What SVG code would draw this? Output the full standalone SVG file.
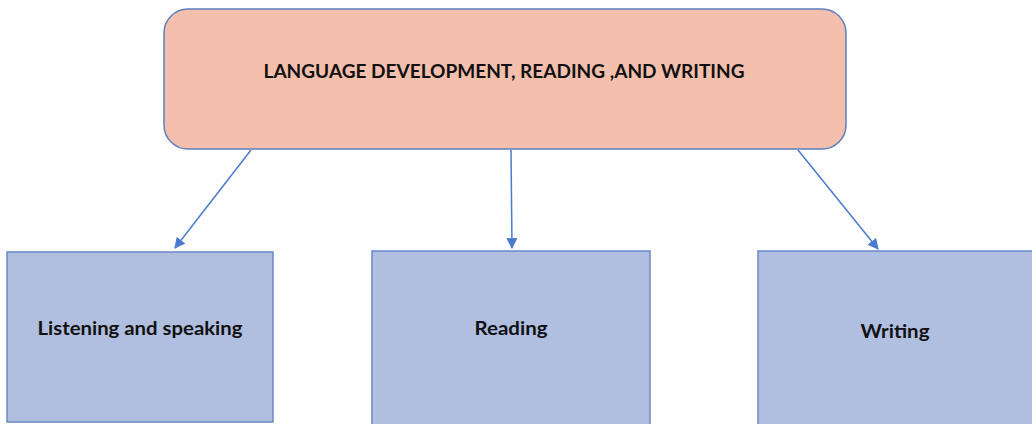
<svg xmlns="http://www.w3.org/2000/svg" width="1032" height="424" viewBox="0 0 1032 424">
  <style>
    .title { fill: #f4bfac; stroke: #5f7fbf; stroke-width: 1.5; }
    .leaf { fill: #b0bee0; stroke: #6a88c8; stroke-width: 1.5; }
    .label { font-family: Lato, "Open Sans", "Liberation Sans", sans-serif; font-weight: bold; font-size: 18px; fill: #111; text-anchor: middle; }
    .link { stroke: #4a7bd0; stroke-width: 1.5; fill: none; marker-end: url(#head); }
  </style>
  <defs>
    <marker id="head" viewBox="0 0 10 10" refX="9" refY="5" markerWidth="11" markerHeight="11" markerUnits="userSpaceOnUse" orient="auto">
      <path d="M0,0 L10,5 L0,10 z" fill="#4a7bd0"/>
    </marker>
  </defs>
  <rect width="1032" height="424" fill="#ffffff"/>

  <g id="connectors">
    <line class="link" x1="251" y1="150" x2="175" y2="248"/>
    <line class="link" x1="511" y1="150" x2="512" y2="248"/>
    <line class="link" x1="798" y1="150" x2="878" y2="249"/>
  </g>

  <g id="root">
    <rect class="title" x="164" y="9" width="682" height="140" rx="24" ry="24"/>
    <text class="label" x="504" y="78" textLength="481" lengthAdjust="spacingAndGlyphs">LANGUAGE DEVELOPMENT, READING ,AND WRITING</text>
  </g>

  <g id="listening">
    <rect class="leaf" x="7" y="252" width="266" height="170"/>
    <text class="label" x="140" y="335" textLength="205" lengthAdjust="spacingAndGlyphs">Listening and speaking</text>
  </g>

  <g id="reading">
    <rect class="leaf" x="372" y="251" width="278" height="176"/>
    <text class="label" x="511" y="335" textLength="73" lengthAdjust="spacingAndGlyphs">Reading</text>
  </g>

  <g id="writing">
    <rect class="leaf" x="758" y="251" width="280" height="176"/>
    <text class="label" x="895" y="338" textLength="69" lengthAdjust="spacingAndGlyphs">Writing</text>
  </g>
</svg>
